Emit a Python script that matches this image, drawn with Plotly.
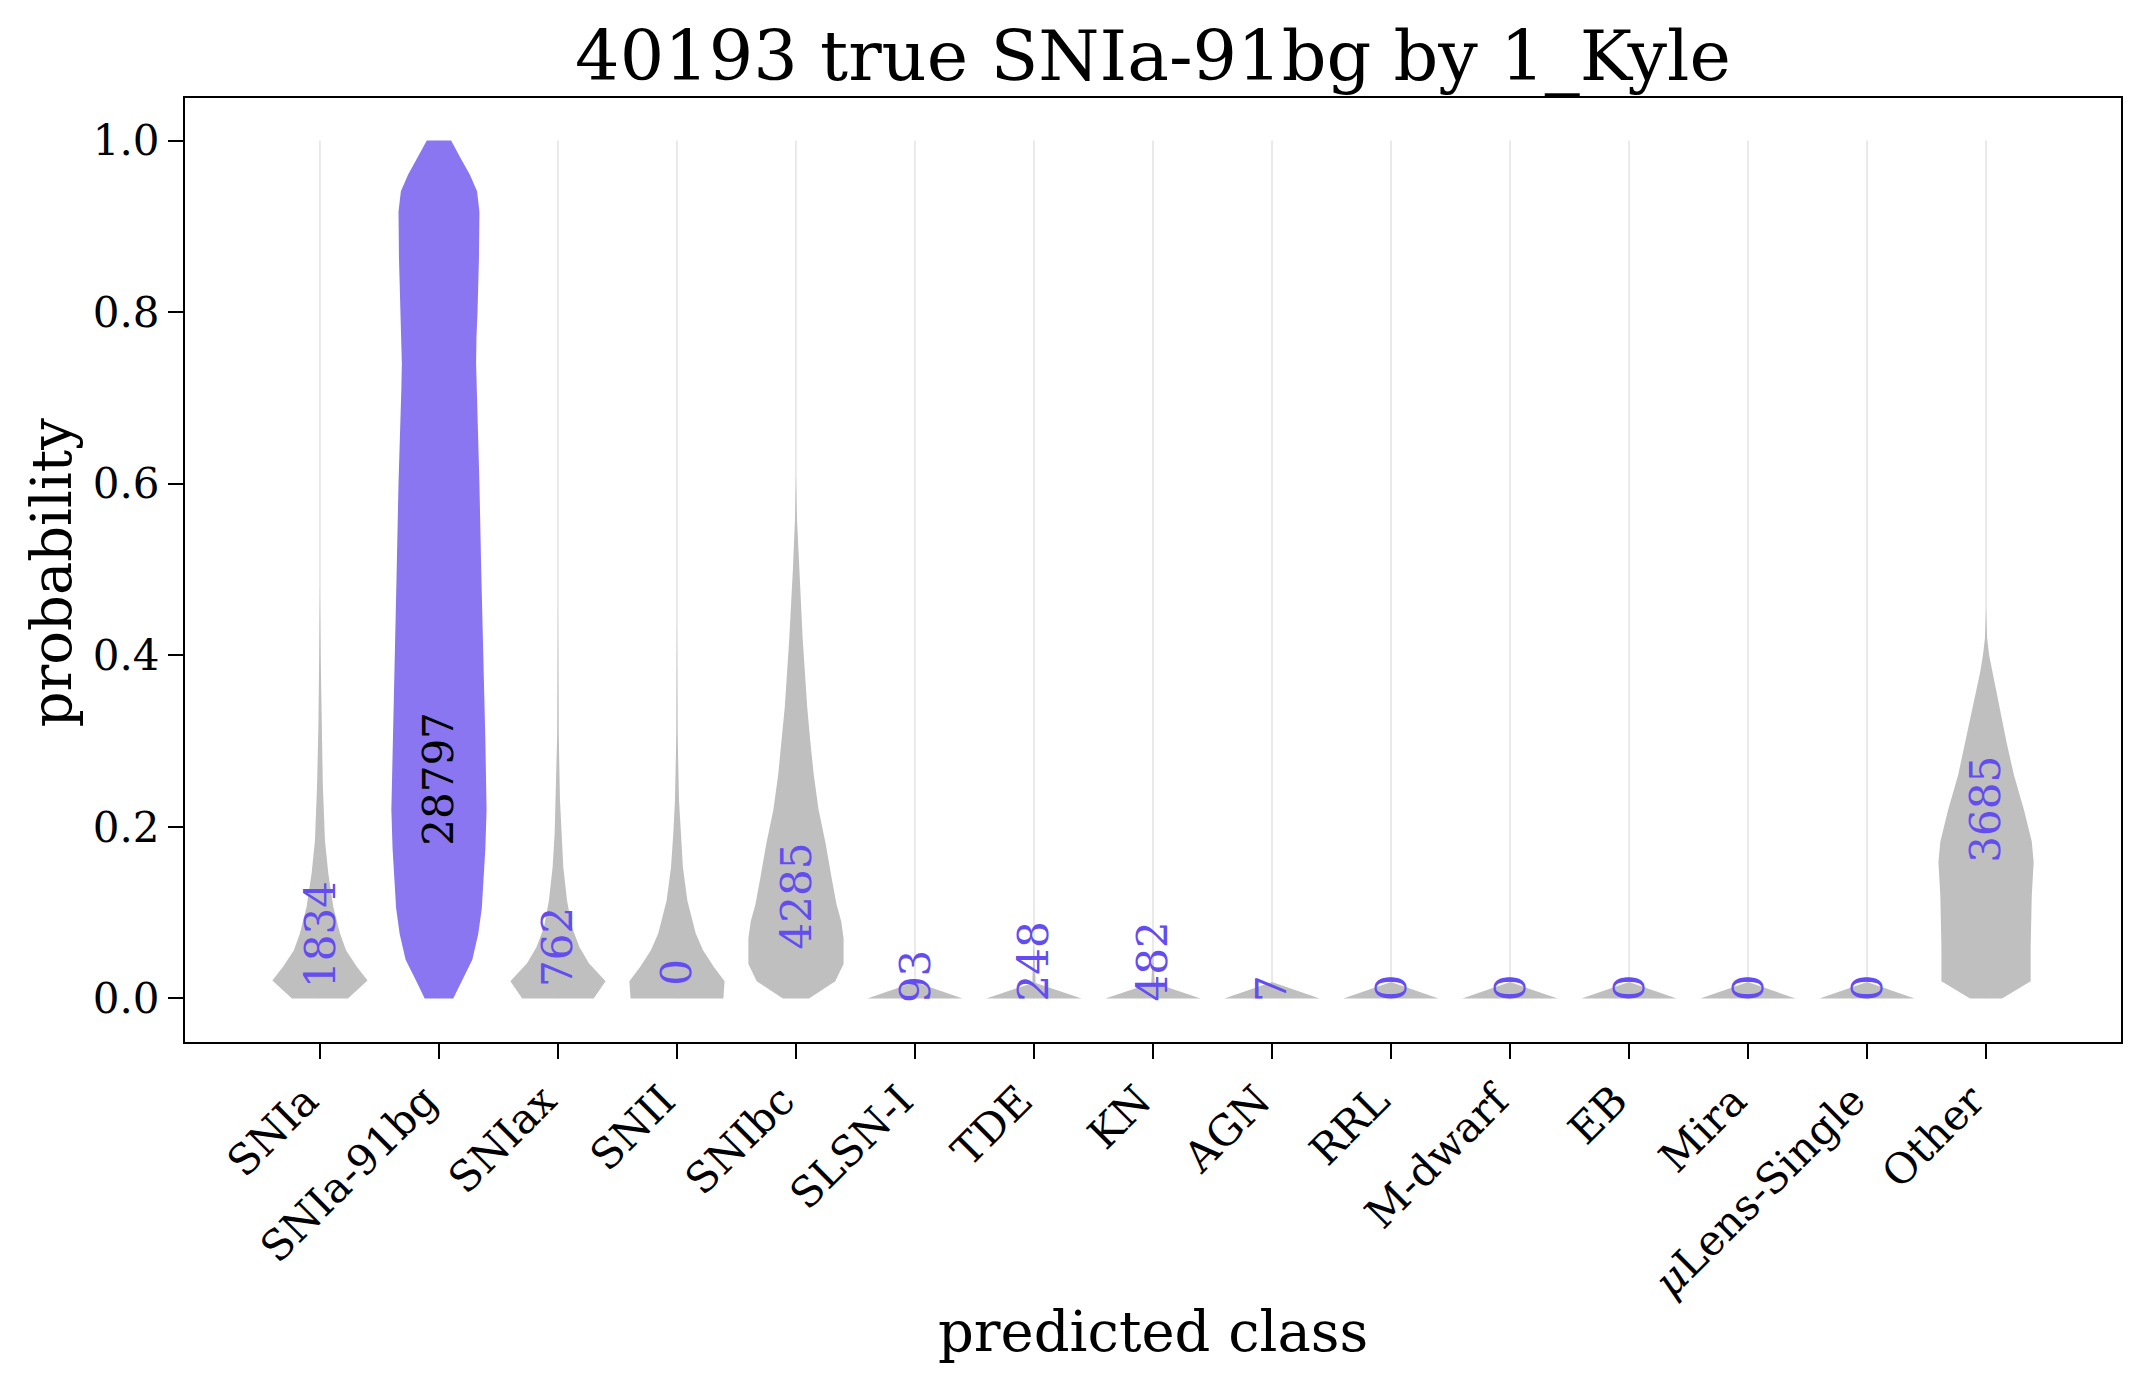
import plotly.graph_objects as go

# classes on the x axis, with counts of objects predicted as each class
classes = ['SNIa', 'SNIa-91bg', 'SNIax', 'SNII', 'SNIbc', 'SLSN-I', 'TDE', 'KN',
           'AGN', 'RRL', 'M-dwarf', 'EB', 'Mira', '<i>μ</i>Lens-Single', 'Other']
counts = [1834, 28797, 762, 0, 4285, 93, 248, 482, 7, 0, 0, 0, 0, 0, 3685]
count_y = [0.075, 0.256, 0.06, 0.031, 0.12, 0.026, 0.043, 0.043, 0.011,
           0.012, 0.012, 0.012, 0.012, 0.012, 0.22]
true_class = 'SNIa-91bg'

# violin profiles: probability and half width
snia_p = [0, 0.021, 0.037, 0.056, 0.076, 0.107, 0.146, 0.184, 0.25, 0.32, 0.40, 0.48]
snia_w = [0.235, 0.40, 0.31, 0.22, 0.168, 0.112, 0.07, 0.042, 0.024, 0.013, 0.006, 0]

bg91_p = [0, 0.02, 0.045, 0.075, 0.105, 0.175, 0.22, 0.30, 0.40, 0.50, 0.60, 0.67,
          0.71, 0.74, 0.77, 0.80, 0.863, 0.917, 0.941, 0.96, 0.98, 1.0]
bg91_w = [0.12, 0.19, 0.28, 0.33, 0.36, 0.39, 0.40, 0.39, 0.37, 0.355, 0.34, 0.325,
          0.316, 0.312, 0.315, 0.324, 0.336, 0.34, 0.32, 0.26, 0.18, 0.102]

snix_p = [0, 0.02, 0.041, 0.06, 0.083, 0.114, 0.153, 0.192, 0.231, 0.31, 0.46]
snix_w = [0.30, 0.40, 0.26, 0.18, 0.118, 0.076, 0.045, 0.028, 0.017, 0.006, 0]

snii_p = [0, 0.02, 0.0365, 0.056, 0.076, 0.114, 0.153, 0.192, 0.231, 0.31, 0.44]
snii_w = [0.39, 0.40, 0.31, 0.22, 0.157, 0.087, 0.05, 0.031, 0.017, 0.005, 0]

snibc_p = [0, 0.02, 0.04, 0.07, 0.09, 0.11, 0.14, 0.18, 0.22, 0.26, 0.30, 0.34,
           0.42, 0.50, 0.56, 0.61]
snibc_w = [0.11, 0.33, 0.40, 0.40, 0.38, 0.34, 0.30, 0.25, 0.19, 0.15, 0.12, 0.094,
           0.056, 0.026, 0.008, 0]

flat_p = [0, 0.019]
flat_w = [0.40, 0]

tde_p = [0, 0.018, 0.03, 0.055, 0.065]
tde_w = [0.40, 0.014, 0.01, 0.006, 0]

kn_p = [0, 0.018, 0.03, 0.045, 0.055]
kn_w = [0.40, 0.014, 0.01, 0.005, 0]

other_p = [0, 0.02, 0.059, 0.119, 0.159, 0.183, 0.219, 0.26, 0.30, 0.34, 0.38,
           0.40, 0.42, 0.455]
other_w = [0.134, 0.375, 0.375, 0.384, 0.40, 0.384, 0.32, 0.235, 0.17, 0.11, 0.05,
           0.026, 0.009, 0]

profiles = [(snia_p, snia_w), (bg91_p, bg91_w), (snix_p, snix_w), (snii_p, snii_w),
            (snibc_p, snibc_w), (flat_p, flat_w), (tde_p, tde_w), (kn_p, kn_w),
            (flat_p, flat_w), (flat_p, flat_w), (flat_p, flat_w), (flat_p, flat_w),
            (flat_p, flat_w), (flat_p, flat_w), (other_p, other_w)]

FONT = 'DejaVu Serif'
GRAY = '#bfbfbf'
PURPLE = '#8a76f1'
BLUE = '#634cf0'

fig = go.Figure()

# thin light lines from 0 to 1 at each class
for i in range(len(classes)):
    fig.add_trace(go.Scatter(x=[i, i], y=[0, 1], mode='lines',
                             line=dict(color='#d4d4d4', width=1),
                             hoverinfo='skip', showlegend=False))

for i, (p, w) in enumerate(profiles):
    xs = [i + v for v in w] + [i - v for v in w[::-1]]
    ys = list(p) + list(p[::-1])
    col = PURPLE if classes[i] == true_class else GRAY
    fig.add_trace(go.Scatter(x=xs, y=ys, mode='lines', fill='toself',
                             fillcolor=col, line=dict(width=0, color=col),
                             hoverinfo='skip', showlegend=False))

for i, c in enumerate(counts):
    fig.add_annotation(x=i, y=count_y[i], text=str(c), textangle=-90,
                       showarrow=False, xanchor='center', yanchor='middle',
                       font=dict(family=FONT, size=42,
                                 color='black' if classes[i] == true_class else BLUE))

fig.add_annotation(xref='paper', yref='paper', x=0.5, y=-0.307, text='predicted class',
                   showarrow=False, xanchor='center', yanchor='middle',
                   font=dict(family=FONT, size=56, color='black'))
fig.add_annotation(xref='paper', yref='paper', x=-0.069, y=0.498, text='probability',
                   textangle=-90, showarrow=False, xanchor='center', yanchor='middle',
                   font=dict(family=FONT, size=56, color='black'))

# page body adds ~8px offset, margins compensate
fig.update_layout(
    width=2146, height=1386,
    margin=dict(l=177, r=33, t=90, b=352),
    plot_bgcolor='white', paper_bgcolor='white',
    title=dict(text='40193 true SNIa-91bg by 1_Kyle', x=0.5, xref='paper',
               y=1 - 47 / 1386, yref='container', yanchor='middle', xanchor='center',
               font=dict(family=FONT, size=70, color='black')),
    font=dict(family=FONT, color='black'),
)
fig.update_xaxes(range=[-1.134, 15.134], tickvals=list(range(len(classes))),
                 ticktext=classes, tickangle=-45, ticks='outside', ticklen=15,
                 tickwidth=2, tickcolor='black', showgrid=False, zeroline=False,
                 showline=True, linecolor='black', linewidth=2, mirror=True,
                 ticklabelshift=-14,
                 tickfont=dict(family=FONT, size=42, color='black'))
fig.update_yaxes(range=[-0.0508, 1.0496], tickvals=[0, 0.2, 0.4, 0.6, 0.8, 1.0],
                 tickformat='.1f', ticks='outside', ticklen=15, tickwidth=2,
                 tickcolor='black', showgrid=False, zeroline=False,
                 showline=True, linecolor='black', linewidth=2, mirror=True,
                 tickfont=dict(family=FONT, size=42, color='black'))

fig.write_html("out.html")
